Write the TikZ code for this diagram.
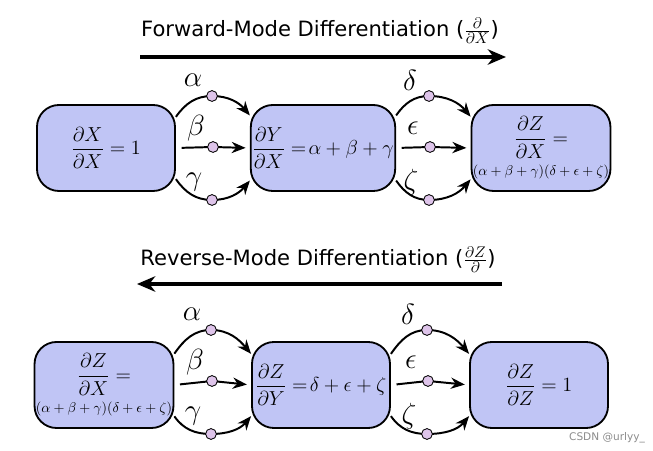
\documentclass[tikz,border=0pt]{standalone}
\usepackage{amsmath}
\usepackage{fontspec}
\setsansfont{DejaVu Sans}
\usetikzlibrary{arrows.meta}
\definecolor{boxblue}{RGB}{192,197,245}
\definecolor{dotpurple}{RGB}{222,196,234}
\tikzset{
  deriv/.style={draw=black, line width=1.3pt, fill=boxblue, rounded corners=0.55cm,
    minimum width=3.45cm, minimum height=2.15cm, inner sep=1pt, align=center,
    font=\fontsize{14}{16}\selectfont},
  weight/.style={circle, draw=black, line width=0.6pt, fill=dotpurple,
    minimum size=0.27cm, inner sep=0pt},
  wlabel/.style={font=\fontsize{21}{24}\selectfont, inner sep=0pt},
  link/.style={line width=1.4pt},
  edge/.style={line width=1.4pt, -{Stealth[length=10pt,width=8pt]}},
  title/.style={font=\sffamily\fontsize{15}{18}\selectfont},
  mode/.style={line width=2.2pt, -{Stealth[length=13pt,width=11pt]}},
}

\begin{document}
\begin{tikzpicture}[x=0.025cm, y=-0.025cm]
  \useasboundingbox (0,0) rectangle (653,451);

  % titles
  \node[title] (fwd) at (320,31) {Forward-Mode Differentiation ($\frac{\partial}{\partial X}$)};
  \coordinate (fwdL) at (140,57);
  \coordinate (fwdR) at (506,57);
  \draw[mode] (fwdL) -- (fwdR);

  \node[title] (rev) at (318,260) {Reverse-Mode Differentiation ($\frac{\partial Z}{\partial}$)};
  \coordinate (revL) at (137,284);
  \coordinate (revR) at (502,284);
  \draw[mode] (revR) -- (revL);

  % forward row
  \node[deriv] (f1) at (106,148) {$\dfrac{\partial X}{\partial X}=1$};
  \node[deriv] (f2) at (323,148) {$\dfrac{\partial Y}{\partial X} =\!\alpha+\beta+\gamma$};
  \node[deriv] (f3) at (541,148) {$\dfrac{\partial Z}{\partial X}=$\\[4pt]
    {\fontsize{10}{11}\selectfont$(\alpha+\beta+\gamma)(\delta+\epsilon+\zeta)$}};

  % reverse row
  \node[deriv] (r1) at (104,385) {$\dfrac{\partial Z}{\partial X}=$\\[4pt]
    {\fontsize{10}{11}\selectfont$(\alpha+\beta+\gamma)(\delta+\epsilon+\zeta)$}};
  \node[deriv] (r2) at (321,385) {$\dfrac{\partial Z}{\partial Y} =\!\delta+\epsilon+\zeta$};
  \node[deriv] (r3) at (539,385) {$\dfrac{\partial Z}{\partial Z}=1$};

  % weighted connectors
  \foreach \a/\b/\xm/\ym/\la/\lb/\lc in {
      f1/f2/212/148/\alpha/\beta/\gamma,
      f2/f3/429/148/\delta/\epsilon/\zeta,
      r1/r2/211/382/\alpha/\beta/\gamma,
      r2/r3/427/382/\delta/\epsilon/\zeta} {
    \coordinate (\a-t) at (\xm,{\ym-52});
    \coordinate (\a-m) at ({\xm+1},{\ym-1});
    \coordinate (\a-b) at (\xm,{\ym+52});
    \draw[link] (\a.24) to[out=55,in=180] (\a-t);
    \draw[edge] (\a-t) to[out=0,in=130] (\b.156);
    \draw[link, shorten <=4pt] (\a.east) -- (\a-m);
    \draw[edge, shorten >=3pt] (\a-m) -- (\b.west);
    \draw[link] (\a.-24) to[out=-55,in=180] (\a-b);
    \draw[edge] (\a-b) to[out=0,in=-130] (\b.-156);
    \node[weight] (\a-dt) at (\a-t) {};
    \node[weight] (\a-dm) at (\a-m) {};
    \node[weight] (\a-db) at (\a-b) {};
    \node[wlabel] (\a-lt) at ({\xm-19},{\ym-68}) {$\la$};
    \node[wlabel] (\a-lm) at ({\xm-16},{\ym-20}) {$\lb$};
    \node[wlabel] (\a-lb) at ({\xm-18},{\ym+34}) {$\lc$};
  }

  % watermark
  \node[font=\sffamily\fontsize{7.5}{9}\selectfont, text=black!45] (mark) at (607,438) {CSDN @urlyy\_};
\end{tikzpicture}
\end{document}
